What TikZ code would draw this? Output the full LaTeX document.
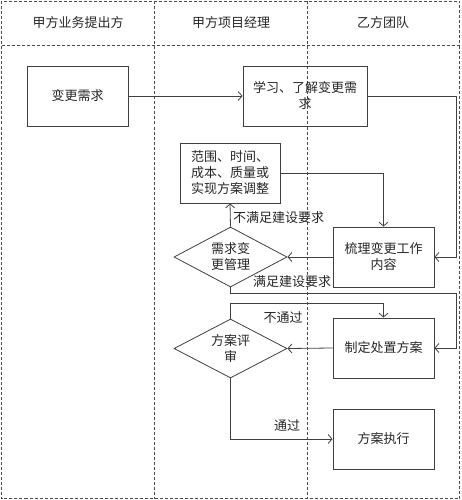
\documentclass[tikz,border=0pt]{standalone}
\usepackage{fontspec}
\setmainfont{Noto Sans CJK SC}
\usetikzlibrary{positioning,shapes.geometric,arrows.meta}
\tikzset{>={Straight Barb[length=4pt,width=9pt]}}
\tikzset{
  lane/.style={draw=black!70,line width=0.8pt,dash pattern=on 3pt off 2pt},
  box/.style={draw=black!75,line width=0.8pt,minimum width=101pt,minimum height=60pt,inner sep=0pt,align=center},
  decide/.style={diamond,aspect=2,draw=black!75,line width=0.8pt,minimum width=113pt,minimum height=60pt,inner sep=0pt,align=center},
  flow/.style={->,draw=black!75,line width=0.8pt},
  lbl/.style={inner sep=0pt}
}

\begin{document}
\begin{tikzpicture}[x=1pt,y=-1pt,font=\fontsize{13}{16}\selectfont,text=black!85]
\useasboundingbox (0,0) rectangle (461,500);
% swim lanes
\draw[lane] (1.5,1.5) rectangle (459.5,498.5);
\draw[lane] (1.5,45) -- (459.5,45);
\draw[lane] (154,1.5) -- (154,498.5);
\draw[lane] (307,1.5) -- (307,498.5);
\node (laneA) at (78,23) {甲方业务提出方};
\node (laneB) at (231,23) {甲方项目经理};
\node (laneC) at (383,23) {乙方团队};
% boxes
\node[box] (req) at (77.5,96) {变更需求};
\node[box,minimum width=124pt] (learn) at (305,96) {学习、了解变更需\\求};
\node[box,minimum width=100pt] (adjust) at (230,173) {范围、时间、\\成本、质量或\\实现方案调整};
\node[box] (sort) at (383.5,257) {梳理变更工作\\内容};
\node[decide] (mgmt) at (230.5,257) {需求变\\更管理};
\node[box] (plan) at (383.5,348) {制定处置方案};
\node[decide,minimum height=59pt] (review) at (230.5,348.5) {方案评\\审};
\node[box] (exec) at (383.5,439) {方案执行};
\coordinate (edge) at (456,0);
\coordinate (back) at (456,293);
% connectors
\draw[flow] (req) -- (learn);
\draw[flow] (learn.east) -- (learn.east -| edge) |- (sort.east);
\draw[flow] (adjust.east) -| (sort.north);
\draw[flow] (sort.west) -- (mgmt.east);
\draw[flow] (mgmt.north) -- (adjust.south);
\node[lbl,anchor=west] (nok) at (233,218) {不满足建设要求};
\draw[flow] (mgmt.south) |- (back) |- (plan.east);
\node[lbl] (ok) at (292,282) {满足建设要求};
\draw[flow] (plan.west) -- (review.east);
\draw[flow] (review.north) -- ++(0,-15) -| (plan.north);
\node[lbl] (fail) at (283,318) {不通过};
\draw[flow] (review.south) |- (exec.west);
\node[lbl] (pass) at (287,426) {通过};
\end{tikzpicture}
\end{document}
